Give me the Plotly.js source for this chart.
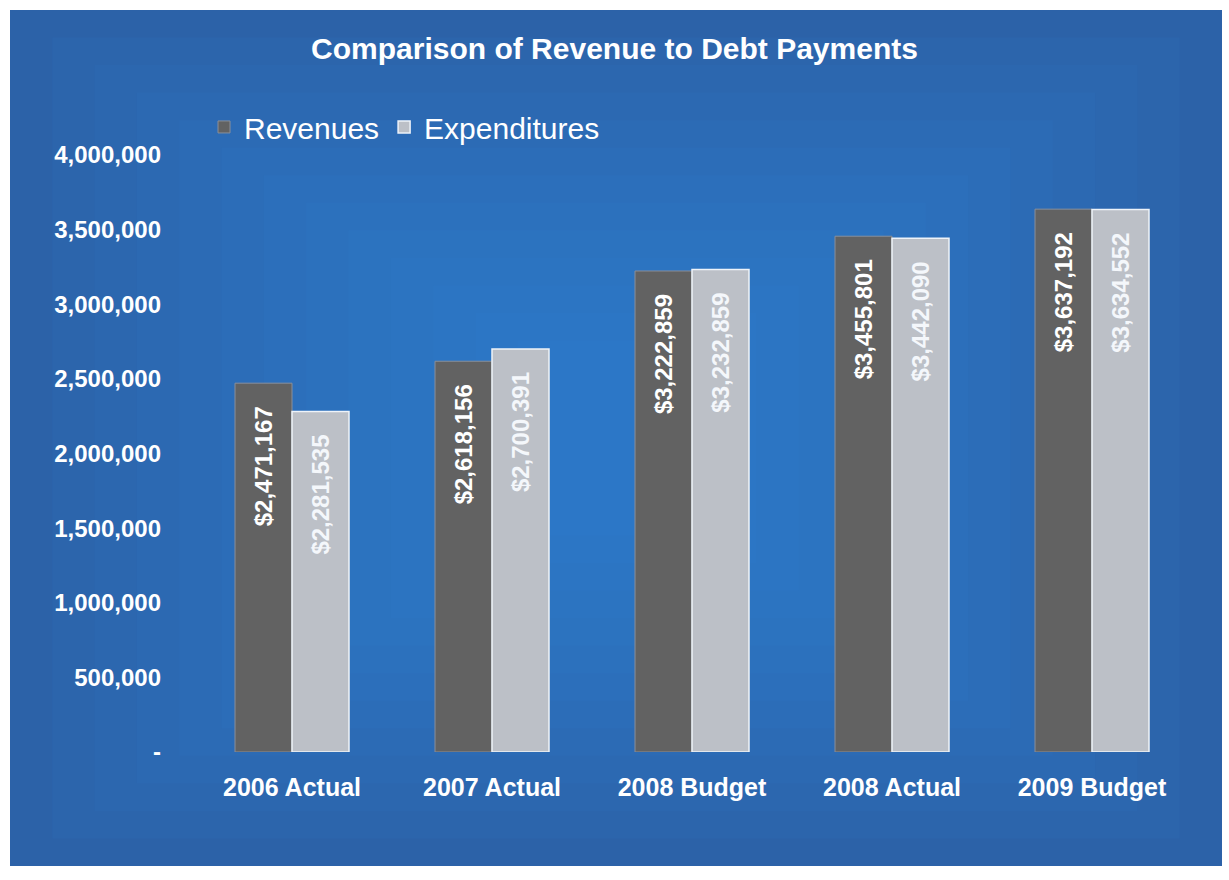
<!DOCTYPE html>
<html>
<head>
<meta charset="utf-8">
<script src="https://cdn.plot.ly/plotly-3.0.1.min.js"></script>
<style>html,body{margin:0;padding:0;background:#fff;}#chart{width:1229px;height:880px;}</style>
</head>
<body>
<div id="chart"></div>
<script>
const categories = ["2006 Actual", "2007 Actual", "2008 Budget", "2008 Actual", "2009 Budget"];
const revenues = [2471167, 2618156, 3222859, 3455801, 3637192];
const expenditures = [2281535, 2700391, 3232859, 3442090, 3634552];
const tickValues = [0, 500000, 1000000, 1500000, 2000000, 2500000, 3000000, 3500000, 4000000];
const tickLabels = ["-", "500,000", "1,000,000", "1,500,000", "2,000,000", "2,500,000", "3,000,000", "3,500,000", "4,000,000"];

const FONT = "Liberation Sans, Arial, sans-serif";

const traces = [
  {
    type: "bar", name: "Revenues", x: categories, y: revenues,
    marker: {color: "#626262", line: {color: "#8a8f99", width: 1}},
    texttemplate: "$%{y:,}\u00a0\u00a0\u00a0", textposition: "inside", insidetextanchor: "end",
    textangle: -90, textfont: {family: FONT, size: 24, color: "#ffffff", weight: "bold"},
    hoverinfo: "skip"
  },
  {
    type: "bar", name: "Expenditures", x: categories, y: expenditures,
    marker: {color: "#bcc0c7", line: {color: "#eef3f9", width: 1.5}},
    texttemplate: "$%{y:,}\u00a0\u00a0\u00a0", textposition: "inside", insidetextanchor: "end",
    textangle: -90, textfont: {family: FONT, size: 24, color: "#f4f7fb", weight: "bold"},
    hoverinfo: "skip"
  }
];

const bgShapes = [
  {type: "rect", xref: "paper", yref: "paper", x0: -0.182, x1: 1.03, y0: -0.191, y1: 1.243,
   fillcolor: "#2c62a8", line: {width: 0}, layer: "below"}
];
for (let i = 1; i <= 12; i++) {
  const f = i / 13;
  bgShapes.push({
    type: "rect", xref: "paper", yref: "paper",
    x0: -0.182 + f * 0.55, x1: 1.03 - f * 0.55,
    y0: -0.191 + f * 0.6, y1: 1.243 - f * 0.6,
    fillcolor: "rgba(60,145,230,0.07)", line: {width: 0}, layer: "below"
  });
}

const layout = {
  width: 1229, height: 880,
  paper_bgcolor: "#ffffff", plot_bgcolor: "rgba(0,0,0,0)",
  margin: {l: 192, r: 37, t: 155, b: 128},
  font: {family: FONT, color: "#ffffff"},
  title: {text: "<b>Comparison of Revenue to Debt Payments</b>", x: 0.5, xanchor: "center",
          y: 0.945, yanchor: "middle", yref: "container",
          font: {family: FONT, size: 30, color: "#ffffff"}},
  barmode: "group", bargap: 0.43, bargroupgap: 0,
  showlegend: true,
  legend: {orientation: "h", x: 0.012, xanchor: "left", y: 1.047, yanchor: "middle",
           font: {family: FONT, size: 30, color: "#ffffff"}, bgcolor: "rgba(0,0,0,0)",
           itemwidth: 30, traceorder: "normal"},
  xaxis: {showgrid: false, zeroline: false, showline: false, ticks: "",
          tickfont: {family: FONT, size: 25, color: "#ffffff", weight: "bold"},
          ticklabelstandoff: 18},
  yaxis: {range: [0, 4000000], showgrid: false, zeroline: false, showline: false, ticks: "",
          tickvals: tickValues, ticktext: tickLabels,
          tickfont: {family: FONT, size: 24, color: "#ffffff", weight: "bold"},
          ticklabelstandoff: 30},
  shapes: bgShapes
};

Plotly.newPlot("chart", traces, layout, {displayModeBar: false, staticPlot: true});
</script>
</body>
</html>
